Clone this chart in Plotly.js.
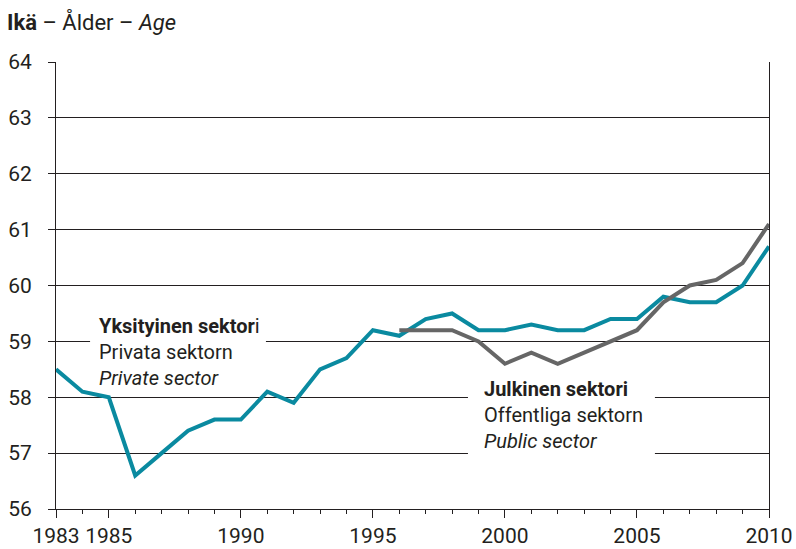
<!DOCTYPE html>
<html>
<head>
<meta charset="utf-8">
<title>Ikä – Ålder – Age</title>
<script src="https://cdn.plot.ly/plotly-3.0.1.min.js"></script>
<style>
	body { margin: 0; background-color: white; }
	#chart { width: 796px; height: 549px; }
</style>
</head>
<body>
<div id="chart"></div>
<script>
	// years and average age per sector
	var privateYears = [1983, 1984, 1985, 1986, 1987, 1988, 1989, 1990, 1991, 1992, 1993, 1994, 1995, 1996,
		1997, 1998, 1999, 2000, 2001, 2002, 2003, 2004, 2005, 2006, 2007, 2008, 2009, 2010];
	var privateAge = [58.5, 58.1, 58.0, 56.6, 57.0, 57.4, 57.6, 57.6, 58.1, 57.9, 58.5, 58.7, 59.2, 59.1,
		59.4, 59.5, 59.2, 59.2, 59.3, 59.2, 59.2, 59.4, 59.4, 59.8, 59.7, 59.7, 60.0, 60.7];

	var publicYears = [1996, 1997, 1998, 1999, 2000, 2001, 2002, 2003, 2004, 2005, 2006, 2007, 2008, 2009, 2010];
	var publicAge = [59.2, 59.2, 59.2, 59.0, 58.6, 58.8, 58.6, 58.8, 59.0, 59.2, 59.7, 60.0, 60.1, 60.4, 61.1];

	var xTicks = [1983, 1985, 1990, 1995, 2000, 2005, 2010];
	var yTicks = [56, 57, 58, 59, 60, 61, 62, 63, 64];

	var fontFamily = 'Roboto, "Open Sans", sans-serif';
	var textColor = '#231f20';
	var axisColor = '#231f20';

	var privateLine = {
	  x: privateYears,
	  y: privateAge,
	  type: 'scatter',
	  mode: 'lines',
	  name: 'Private sector',
	  line: {color: '#0a8aa0', width: 4}
	};

	var publicLine = {
	  x: publicYears,
	  y: publicAge,
	  type: 'scatter',
	  mode: 'lines',
	  name: 'Public sector',
	  line: {color: '#666666', width: 4}
	};

	var layout = {
	  width: 796,
	  height: 549,
	  showlegend: false,
	  margin: {l: 56, r: 27, t: 62, b: 40},
	  plot_bgcolor: 'white',
	  paper_bgcolor: 'white',
	  font: {family: fontFamily, size: 20, color: textColor},
	  xaxis: {
	    range: [1983, 2010],
	    tickmode: 'array',
	    tickvals: xTicks,
	    ticks: 'outside',
	    ticklen: 8,
	    tickcolor: axisColor,
	    showgrid: false,
	    zeroline: false,
	    showline: true,
	    linecolor: axisColor,
	    linewidth: 1,
	    minor: {tick0: 1983, dtick: 1, ticks: 'outside', ticklen: 4, tickcolor: axisColor, showgrid: false},
	    tickfont: {size: 21, color: textColor}
	  },
	  yaxis: {
	    range: [56, 64],
	    tickmode: 'array',
	    tickvals: yTicks,
	    ticks: 'outside',
	    ticklen: 7,
	    tickcolor: axisColor,
	    ticklabelstandoff: 12,
	    showgrid: true,
	    gridcolor: axisColor,
	    gridwidth: 1,
	    zeroline: false,
	    showline: true,
	    mirror: true,
	    linecolor: axisColor,
	    linewidth: 1,
	    tickfont: {size: 21, color: textColor}
	  },
	  shapes: [
	    {type: 'rect', layer: 'above', xref: 'x', yref: 'y', x0: 1984.29, x1: 1990.95, y0: 58.13, y1: 59.53,
	      fillcolor: 'white', line: {width: 0}},
	    {type: 'rect', layer: 'above', xref: 'x', yref: 'y', x0: 1998.6, x1: 2005.68, y0: 56.88, y1: 58.34,
	      fillcolor: 'white', line: {width: 0}}
	  ],
	  annotations: [
	    {
	      text: '<b>Ikä</b> – Ålder – <i>Age</i>',
	      xref: 'paper', yref: 'paper',
	      x: -0.072, y: 1.0895,
	      xanchor: 'left', yanchor: 'middle',
	      showarrow: false,
	      font: {size: 22, color: textColor}
	    },
	    {
	      text: '<b>Yksityinen sektor</b>i<br>Privata sektorn<br><i>Private sector</i>',
	      xref: 'x', yref: 'y',
	      x: 1984.56, y: 59.53,
	      xanchor: 'left', yanchor: 'top', align: 'left',
	      showarrow: false,
	      font: {size: 20, color: textColor}
	    },
	    {
	      text: '<b>Julkinen sektori</b><br>Offentliga sektorn<br><i>Public sector</i>',
	      xref: 'x', yref: 'y',
	      x: 1999.13, y: 58.39,
	      xanchor: 'left', yanchor: 'top', align: 'left',
	      showarrow: false,
	      font: {size: 20, color: textColor}
	    }
	  ]
	};

	Plotly.newPlot('chart', [privateLine, publicLine], layout, {displayModeBar: false});
</script>
</body>
</html>
